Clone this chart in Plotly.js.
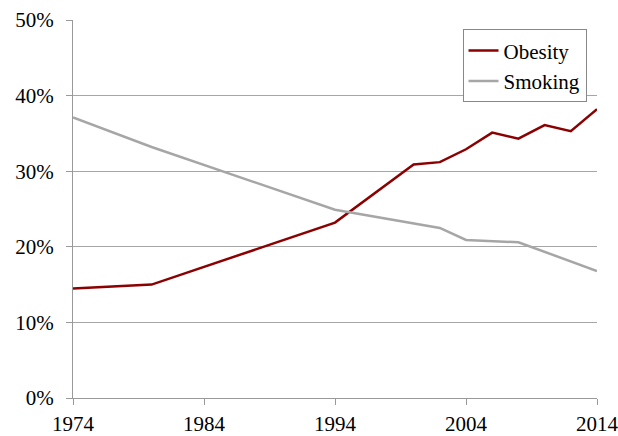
<!DOCTYPE html>
<html>
<head>
<meta charset="utf-8">
<script src="https://cdn.plot.ly/plotly-3.0.1.min.js"></script>
<style>html,body{margin:0;padding:0;background:#fff;}#chart{width:618px;height:436px;}</style>
</head>
<body>
<div id="chart"></div>
<script>
const obesityYears = [1974, 1980, 1994, 2000, 2002, 2004, 2006, 2008, 2010, 2012, 2014];
const obesityValues = [0.145, 0.150, 0.232, 0.309, 0.312, 0.329, 0.351, 0.343, 0.361, 0.353, 0.382];
const smokingYears = [1974, 1980, 1994, 2002, 2004, 2008, 2014];
const smokingValues = [0.371, 0.332, 0.249, 0.225, 0.209, 0.206, 0.168];
const xTicks = [1974, 1984, 1994, 2004, 2014];
const yTicks = [0, 0.1, 0.2, 0.3, 0.4, 0.5];
const yTickLabels = ["0%", "10%", "20%", "30%", "40%", "50%"];

const fam = "Liberation Serif";
const tickFont = {family: fam, size: 21, color: "#000"};
const legFont = {family: fam, size: 21, color: "#000"};

Plotly.newPlot("chart", [
  {x: obesityYears, y: obesityValues, name: "Obesity", type: "scatter", mode: "lines",
   line: {color: "#8b0000", width: 2.5}},
  {x: smokingYears, y: smokingValues, name: "Smoking", type: "scatter", mode: "lines",
   line: {color: "#a6a6a6", width: 2.5}}
], {
  width: 618, height: 436,
  margin: {l: 73, r: 21, t: 20, b: 38, pad: 0},
  paper_bgcolor: "#fff", plot_bgcolor: "#fff",
  font: tickFont,
  showlegend: true,
  legend: {x: 0.98, y: 0.975, xanchor: "right", yanchor: "top",
           bordercolor: "#888", borderwidth: 1, bgcolor: "#fff",
           font: legFont, tracegroupgap: 0, itemwidth: 30},
  xaxis: {range: [1974, 2014], tickvals: xTicks, ticktext: xTicks.map(String),
          showgrid: false, zeroline: false, showline: true, linecolor: "#999", linewidth: 1,
          ticks: "outside", ticklen: 6, tickcolor: "#999", tickfont: tickFont,
          ticklabelstandoff: 1, ticklabeloverflow: "allow", fixedrange: true},
  yaxis: {range: [0, 0.5], tickvals: yTicks, ticktext: yTickLabels,
          showgrid: true, gridcolor: "#a6a6a6", gridwidth: 1, zeroline: false,
          showline: true, linecolor: "#999", linewidth: 1,
          ticks: "outside", ticklen: 6, tickcolor: "#999", tickfont: tickFont,
          ticklabelstandoff: 8, ticklabeloverflow: "allow", fixedrange: true}
}, {staticPlot: true, displayModeBar: false});
</script>
</body>
</html>
